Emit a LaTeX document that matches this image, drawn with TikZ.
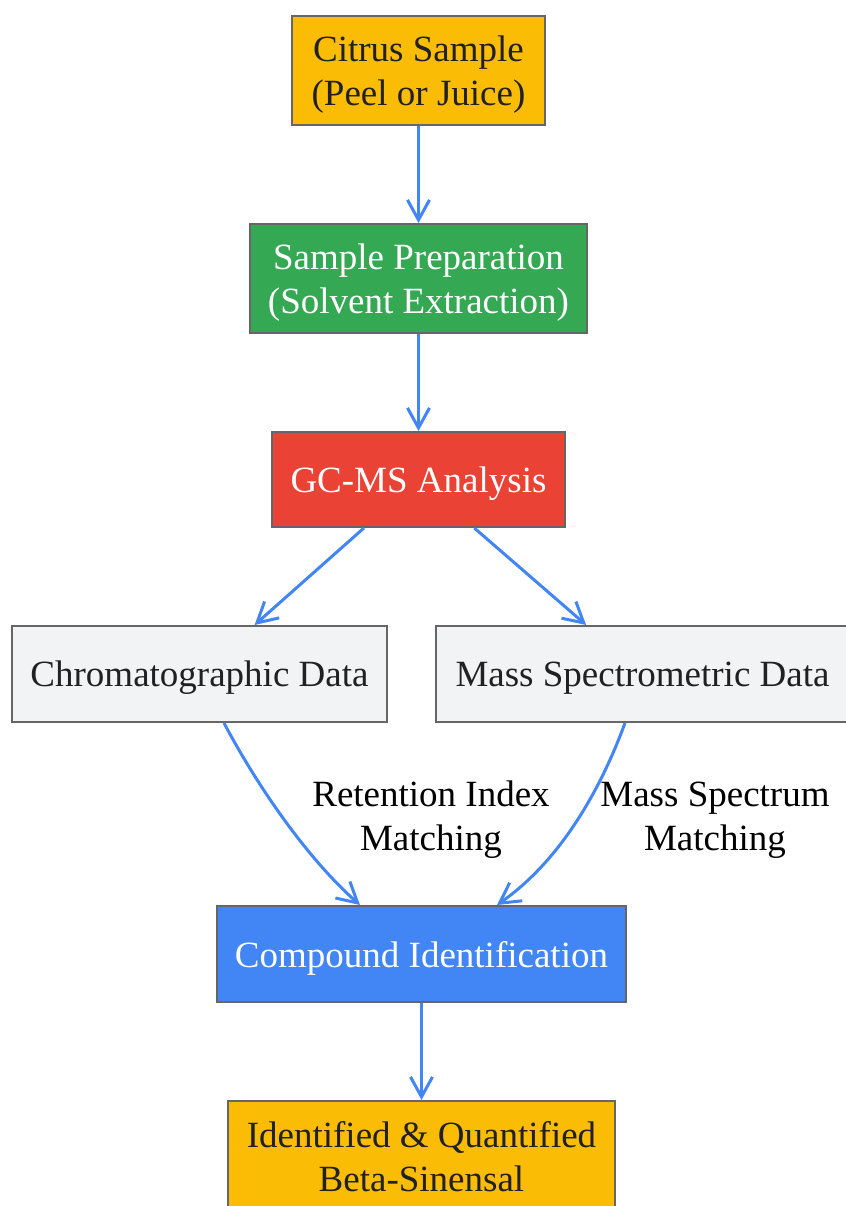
\documentclass[tikz,border=0pt]{standalone}
\usepackage{fontspec}
\setmainfont{Liberation Serif}
\usetikzlibrary{arrows.meta,positioning}
\definecolor{amber}{HTML}{FBBC05}
\definecolor{ggreen}{HTML}{34A853}
\definecolor{gred}{HTML}{EA4335}
\definecolor{gblue}{HTML}{4285F4}
\definecolor{lgray}{HTML}{F1F3F4}
\definecolor{bordergray}{HTML}{666666}
\definecolor{darktext}{HTML}{202124}
\tikzset
{
    flowbox/.style  = {rectangle, draw=bordergray, line width=1pt, align=center, inner sep=0pt,
                       text depth=0pt, font=\fontsize{18.5}{22}\selectfont},
    darkbox/.style  = {flowbox, text=darktext},
    lightbox/.style = {flowbox, text=white},
    flow/.style     = {draw=gblue, line width=1.5pt, -{Straight Barb[length=10pt,width=11pt,line width=1.5pt]}},
    edgelabel/.style = {align=center, text depth=0pt, font=\fontsize{18.5}{22}\selectfont, text=black}
}
\begin{document}
\begin{tikzpicture}[x=0.5pt, y=-0.5pt]
   \useasboundingbox (0,0) rectangle (846,1206);
   \clip (0,0) rectangle (846,1206);

   \node (sample)  [darkbox, fill=amber, minimum width=126.5pt, minimum height=54.5pt]  at (418.5, 70.5)  {Citrus Sample\\(Peel or Juice)};
   \node (prep)    [lightbox, fill=ggreen, minimum width=168.5pt, minimum height=54.5pt] at (418.5, 278.5) {Sample Preparation\\(Solvent Extraction)};
   \node (gcms)    [lightbox, fill=gred, minimum width=146.5pt, minimum height=47.5pt]   at (418.5, 479.5) {GC-MS Analysis};
   \node (chrom)   [darkbox, fill=lgray, minimum width=187.5pt, minimum height=48pt]     at (199.5, 674)   {Chromatographic Data};
   \node (mass)    [darkbox, fill=lgray, minimum width=206.5pt, minimum height=48pt]     at (642.5, 674)   {Mass Spectrometric Data};
   \node (compid)  [lightbox, fill=gblue, minimum width=204.5pt, minimum height=48pt]    at (421.5, 954)   {Compound Identification};
   \node (result)  [darkbox, fill=amber, minimum width=193.5pt, minimum height=55pt]     at (421.5, 1156)  {Identified \& Quantified\\Beta-Sinensal};

   \node (rilabel) [edgelabel] at (431, 816) {Retention Index\\Matching};
   \node (mslabel) [edgelabel] at (715, 816) {Mass Spectrum\\Matching};

   \path[flow]
      (sample) edge (prep)
      (prep)   edge (gcms)
      (gcms)   edge (chrom)
      (gcms)   edge (mass)
      (compid) edge (result);
   \draw[flow] ([xshift=12.25pt]chrom.south) .. controls +(36,68) and +(-50,-44) .. ([xshift=-30.75pt]compid.north);
   \draw[flow] ([xshift=-8.75pt]mass.south) .. controls +(-25,68) and +(63,-44) .. ([xshift=37.75pt]compid.north);
\end{tikzpicture}
\end{document}
